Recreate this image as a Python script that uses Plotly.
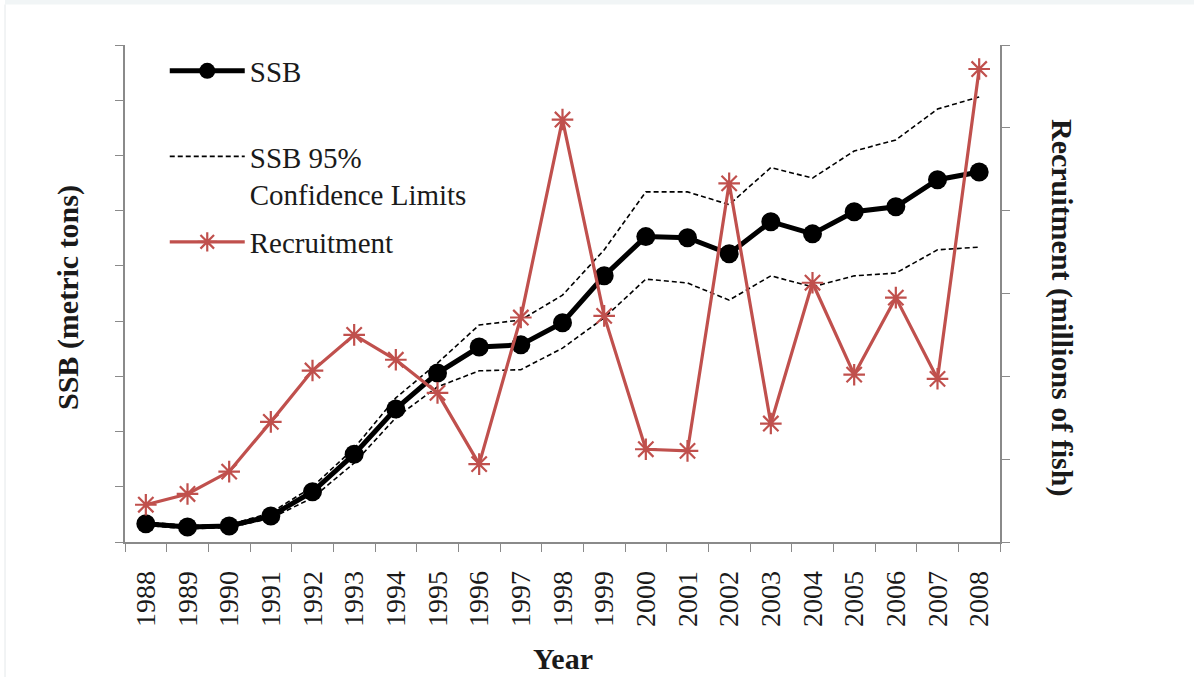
import plotly.graph_objects as go

years = [str(y) for y in range(1988, 2009)]

ssb = [0.33, 0.27, 0.29, 0.47, 0.91, 1.59, 2.41, 3.06, 3.53, 3.57, 3.97,
       4.82, 5.53, 5.51, 5.22, 5.80, 5.58, 5.98, 6.07, 6.56, 6.70]
ssb_upper = [0.36, 0.30, 0.31, 0.53, 1.00, 1.70, 2.61, 3.24, 3.93, 4.02, 4.47,
             5.29, 6.34, 6.34, 6.11, 6.78, 6.59, 7.08, 7.28, 7.84, 8.06]
ssb_lower = [0.30, 0.24, 0.26, 0.43, 0.80, 1.43, 2.25, 2.81, 3.10, 3.12, 3.51,
             4.06, 4.76, 4.69, 4.38, 4.82, 4.62, 4.82, 4.87, 5.29, 5.34]
recruitment = [0.45, 0.58, 0.85, 1.45, 2.07, 2.50, 2.20, 1.80, 0.94, 2.71, 5.10,
               2.73, 1.12, 1.10, 4.33, 1.43, 3.13, 2.02, 2.95, 1.97, 5.71]

RED = "#C0504D"
AXIS = "#8a8a8a"
TXT = "#1a1a1a"
SERIF = "Liberation Serif, Times New Roman, DejaVu Serif, serif"

fig = go.Figure()
fig.add_trace(go.Scatter(
    x=years, y=ssb_upper, mode="lines",
    line=dict(color="black", width=1.6, dash="5px,3px"),
    name="SSB 95%<br>Confidence Limits", legend="legend2"))
fig.add_trace(go.Scatter(
    x=years, y=ssb_lower, mode="lines",
    line=dict(color="black", width=1.6, dash="5px,3px"),
    name="SSB 95% lower", showlegend=False, legend="legend2"))
fig.add_trace(go.Scatter(
    x=years, y=ssb, mode="lines+markers",
    line=dict(color="black", width=5),
    marker=dict(size=19, color="black"),
    name="SSB", legend="legend", showlegend=True))
fig.add_trace(go.Scatter(
    x=years, y=recruitment, yaxis="y2", mode="lines+markers",
    line=dict(color=RED, width=3.2),
    marker=dict(symbol="asterisk-open", size=18, color=RED,
                line=dict(color=RED, width=2.2)),
    name="Recruitment", legend="legend3", showlegend=True))

axis_common = dict(showline=True, linecolor=AXIS, linewidth=1.5,
                   ticks="outside", ticklen=8, tickcolor=AXIS, tickwidth=1.2,
                   showgrid=False, zeroline=False)

legend_font = dict(family=SERIF, size=29, color=TXT)
LX = (170 - 125) / 875 - 0.006

fig.update_layout(
    width=1194, height=677,
    showlegend=True,
    margin=dict(l=125, r=194, t=45, b=135),
    paper_bgcolor="white", plot_bgcolor="white",
    font=dict(family=SERIF, color=TXT),
    xaxis=dict(type="category", range=[-0.5, 20.5], tickson="boundaries",
               tickangle=-90, tickfont=dict(family=SERIF, size=28, color=TXT),
               ticklabelstandoff=16, **axis_common),
    yaxis=dict(range=[0, 9], tick0=0, dtick=1, showticklabels=False, **axis_common),
    yaxis2=dict(range=[0, 6], tick0=0, dtick=1, showticklabels=False,
                overlaying="y", side="right", **axis_common),
    legend=dict(x=LX, y=(542 - 71) / 497, xanchor="left", yanchor="middle",
                font=legend_font, bgcolor="rgba(0,0,0,0)", itemwidth=75),
    legend2=dict(x=LX, y=(542 - 131) / 497, xanchor="left", yanchor="top",
                 font=legend_font, bgcolor="rgba(0,0,0,0)", valign="top", itemwidth=75),
    legend3=dict(x=LX, y=(542 - 242) / 497, xanchor="left", yanchor="middle",
                 font=legend_font, bgcolor="rgba(0,0,0,0)", itemwidth=75),
    annotations=[
        dict(text="<b>SSB (metric tons)</b>", xref="paper", yref="paper",
             x=(68 - 125) / 875, y=(542 - 298) / 497, textangle=-90,
             xanchor="center", yanchor="middle",
             showarrow=False, font=dict(family=SERIF, size=30, color=TXT)),
        dict(text="<b>Recruitment (millions of fish)</b>", xref="paper", yref="paper",
             x=(1062 - 125) / 875, y=(542 - 307) / 497, textangle=90,
             xanchor="center", yanchor="middle",
             showarrow=False, font=dict(family=SERIF, size=30, color=TXT)),
        dict(text="<b>Year</b>", xref="paper", yref="paper",
             x=(563 - 125) / 875, y=(542 - 659) / 497,
             xanchor="center", yanchor="middle",
             showarrow=False, font=dict(family=SERIF, size=30, color=TXT)),
    ],
    shapes=[
        dict(type="rect", xref="paper", yref="paper",
             x0=(5 - 125) / 875, x1=(1194 - 125) / 875,
             y0=(542 - 4.5) / 497, y1=(542 + 1) / 497 + 0.1,
             fillcolor="#f1f5f6", line=dict(width=0), layer="below"),
        dict(type="line", xref="paper", yref="paper",
             x0=(5 - 125) / 875, x1=(5 - 125) / 875,
             y0=(542 - 677) / 497, y1=(542 - 4.5) / 497,
             line=dict(color="#e4e8ea", width=1)),
    ],
)

fig.write_html("out.html", config={"displayModeBar": False},
               post_script="document.body.style.margin='0';document.body.style.padding='0';")
